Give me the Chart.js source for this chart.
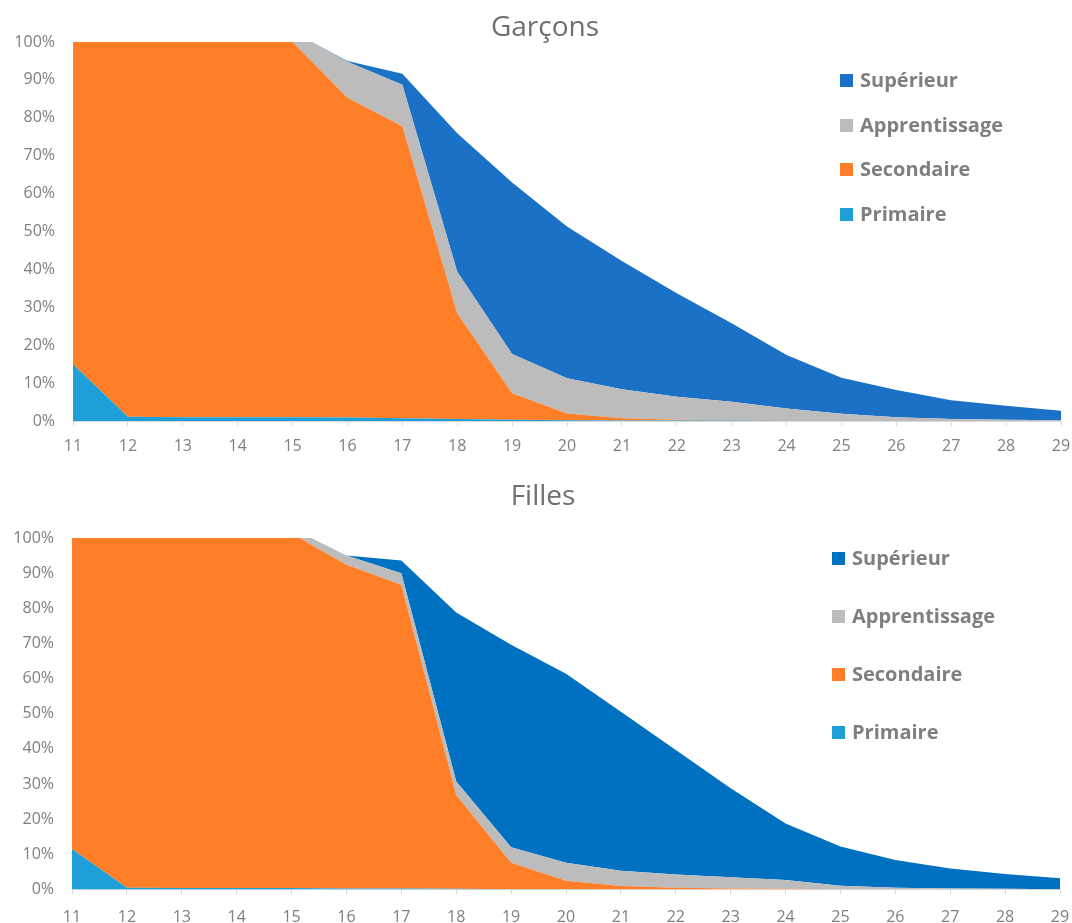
<!DOCTYPE html>
<html>
<head>
<meta charset="utf-8">
<script src="https://cdn.jsdelivr.net/npm/chart.js@4.4.1/dist/chart.umd.min.js"></script>
<style>
  html, body { margin: 0; padding: 0; background: #ffffff; }
  body { width: 1072px; height: 923px; position: relative; overflow: hidden; font-family: "Open Sans", "Noto Sans", sans-serif; }
  .panel { position: absolute; left: 0; width: 1072px; }
  .panel canvas { display: block; }
  .legend { position: absolute; left: 0; top: 0; width: 0; height: 0; }
  .legend .row { position: absolute; display: flex; align-items: center; height: 26px; white-space: nowrap; }
  .legend .sw { width: 13px; height: 13px; margin-right: 7px; }
  .legend .lbl { font-weight: 700; font-size: 20px; color: #7f7f7f; line-height: 26px; }
</style>
</head>
<body>
<div class="panel" id="p1" style="top:0;height:462px;"><canvas id="c1" width="1072" height="462"></canvas></div>
<div class="panel" id="p2" style="top:462px;height:461px;"><canvas id="c2" width="1072" height="461"></canvas></div>
<div class="legend" id="leg1"></div>
<div class="legend" id="leg2"></div>

<script>
// Âges (abscisse)
const ages = ['11','12','13','14','15','16','17','18','19','20','21','22','23','24','25','26','27','28','29'];

// Graduations de l'axe vertical (%)
const yTicks = [0, 10, 20, 30, 40, 50, 60, 70, 80, 90, 100];

// Noms des niveaux, du bas vers le haut de la pile
const levelNames = ['Primaire', 'Secondaire', 'Apprentissage', 'Supérieur'];

// Garçons : part scolarisée par niveau (%)
const garconsPrimaire      = [15.0, 1.1, 1.0, 1.0, 1.0, 0.9, 0.7, 0.5, 0.3, 0.2, 0.1, 0.1, 0.1, 0, 0, 0, 0, 0, 0];
const garconsSecondaire    = [85.0, 98.9, 99.0, 99.0, 99.0, 84.4, 77.1, 27.9, 7.0, 1.8, 0.6, 0.2, 0.1, 0, 0, 0, 0, 0, 0];
const garconsApprentissage = [0, 0, 0, 0, 2.7, 9.5, 10.9, 11.0, 10.4, 9.3, 7.7, 6.1, 4.9, 3.3, 1.9, 1.0, 0.5, 0.3, 0.2];
const garconsSuperieur     = [0, 0, 0, 0, 0, 0.2, 2.9, 36.5, 45.2, 40.0, 33.8, 27.3, 20.7, 14.1, 9.5, 7.2, 5.0, 3.7, 2.5];

// Filles : part scolarisée par niveau (%)
const fillesPrimaire      = [11.5, 0.5, 0.4, 0.4, 0.4, 0.3, 0.3, 0.2, 0.1, 0.1, 0, 0, 0, 0, 0, 0, 0, 0, 0];
const fillesSecondaire    = [88.5, 99.5, 99.6, 99.6, 100.9, 92.1, 86.4, 26.7, 7.5, 2.4, 1.0, 0.5, 0.3, 0.2, 0.1, 0, 0, 0, 0];
const fillesApprentissage = [0, 0, 0, 0, 1.5, 2.6, 3.3, 3.8, 4.4, 5.1, 4.3, 3.8, 3.2, 2.5, 1.0, 0.5, 0.3, 0.2, 0.1];
const fillesSuperieur     = [0, 0, 0, 0, 0, 0, 3.6, 48.1, 57.6, 53.8, 45.3, 35.4, 25.3, 16.1, 11.1, 7.9, 5.7, 4.2, 3.1];

const colPrimaire = '#1e9fd8';
const colSecondaire = '#fe7f27';
const colApprentissage = '#bcbcbc';
const colSupGarcons = '#1b71c6';
const colSupFilles = '#0070c0';

const axisGrey = '#d9d9d9';
const textGrey = '#7f7f7f';

// Recentre le titre horizontalement sur une abscisse donnée
const titleShift = {
  id: 'titleShift',
  afterLayout(chart, args, opts) {
    const tb = chart.titleBlock;
    if (!tb || opts.center == null) return;
    const d = opts.center - (tb.left + tb.right) / 2;
    tb.left += d;
    tb.right += d;
  }
};

function buildChart(canvasId, title, series, colors, g) {
  const datasets = series.map((data, i) => ({
    label: levelNames[i],
    data: data,
    backgroundColor: colors[i],
    borderColor: colors[i],
    borderWidth: 0,
    pointRadius: 0,
    pointHoverRadius: 0,
    tension: 0,
    fill: i === 0 ? 'origin' : '-1'
  }));

  return new Chart(document.getElementById(canvasId), {
    type: 'line',
    data: { labels: ages, datasets: datasets },
    plugins: [titleShift],
    options: {
      responsive: false,
      animation: false,
      events: [],
      layout: { padding: { left: 8, right: 0, top: 0, bottom: 0 } },
      plugins: {
        legend: { display: false },
        tooltip: { enabled: false },
        titleShift: { center: g.titleCenter },
        title: {
          display: true,
          text: title,
          color: '#6f6f6f',
          font: { family: '"Open Sans", sans-serif', size: 28, weight: 'normal', lineHeight: 1 },
          padding: { top: g.titleTop, bottom: g.titleBottom }
        }
      },
      scales: {
        x: {
          type: 'category',
          offset: false,
          grid: { display: true, drawOnChartArea: false, drawTicks: true, tickLength: 5, color: axisGrey },
          border: { display: true, color: axisGrey, width: 1 },
          ticks: {
            color: textGrey,
            font: { family: '"Open Sans", sans-serif', size: 16 },
            padding: g.xPad,
            maxRotation: 0,
            autoSkip: false
          },
          afterFit: (s) => {
            s.height = g.xHeight;
            s.paddingLeft = 0;
            s.paddingRight = g.rightGap;
          }
        },
        y: {
          stacked: true,
          min: 0,
          max: 100,
          grid: { display: false, drawTicks: false },
          border: { display: false },
          afterBuildTicks: (s) => { s.ticks = yTicks.map(v => ({ value: v })); },
          ticks: {
            color: textGrey,
            font: { family: '"Open Sans", sans-serif', size: 16 },
            padding: 18,
            callback: (v) => v + '%'
          },
          afterFit: (s) => { s.width = g.yWidth; }
        }
      }
    }
  });
}

function buildLegend(id, colors, squareLeft, textLeft, rowCenters) {
  const box = document.getElementById(id);
  // ordre inverse de la pile : Supérieur en haut
  const order = [3, 2, 1, 0];
  order.forEach((idx, r) => {
    const row = document.createElement('div');
    row.className = 'row';
    row.style.left = squareLeft + 'px';
    row.style.top = (rowCenters[r] - 13) + 'px';
    const sw = document.createElement('div');
    sw.className = 'sw';
    sw.style.background = colors[idx];
    sw.style.marginRight = (textLeft - squareLeft - 13) + 'px';
    const lbl = document.createElement('span');
    lbl.className = 'lbl';
    lbl.textContent = levelNames[idx];
    row.appendChild(sw);
    row.appendChild(lbl);
    box.appendChild(row);
  });
}

const colorsGarcons = [colPrimaire, colSecondaire, colApprentissage, colSupGarcons];
const colorsFilles = [colPrimaire, colSecondaire, colApprentissage, colSupFilles];

buildChart('c1', 'Garçons',
  [garconsPrimaire, garconsSecondaire, garconsApprentissage, garconsSuperieur],
  colorsGarcons,
  { titleTop: 14, titleBottom: 0, xHeight: 41, xPad: 11, yWidth: 65, rightGap: 11, titleCenter: 545 });

buildChart('c2', 'Filles',
  [fillesPrimaire, fillesSecondaire, fillesApprentissage, fillesSuperieur],
  colorsFilles,
  { titleTop: 21, titleBottom: 27, xHeight: 33.5, xPad: 13, yWidth: 64, rightGap: 12, titleCenter: 543 });

buildLegend('leg1', colorsGarcons, 840, 860, [80, 125, 169, 214]);
buildLegend('leg2', colorsFilles, 832, 852, [558, 616, 674, 732]);
</script>
</body>
</html>
